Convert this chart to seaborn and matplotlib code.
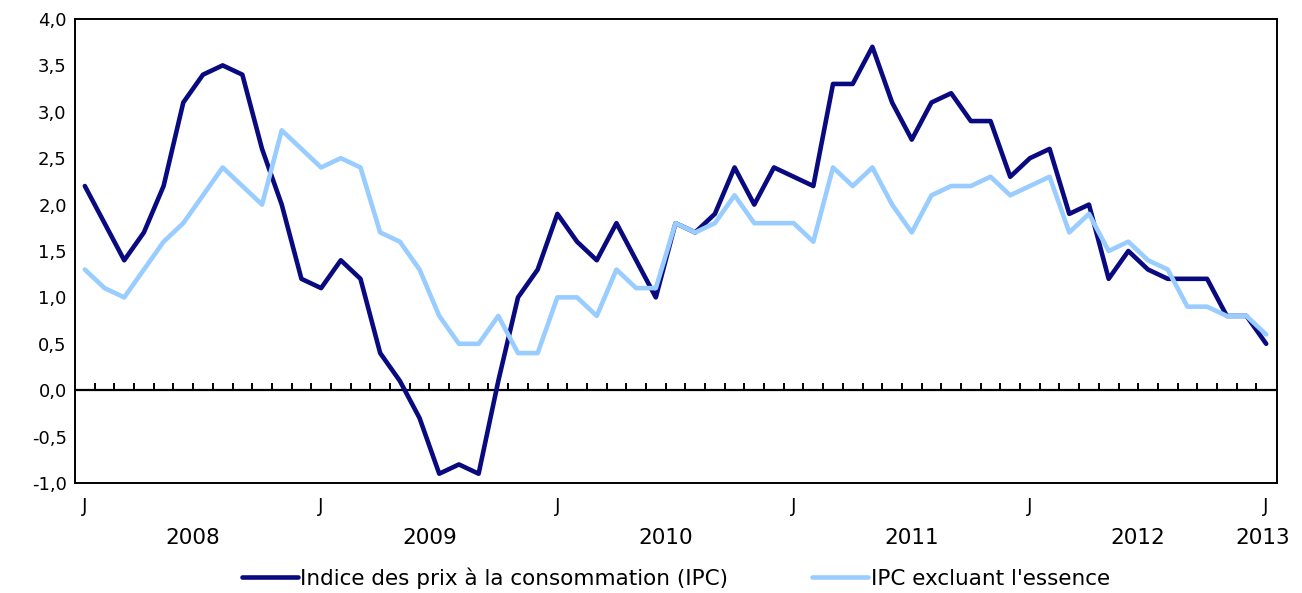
import numpy as np
import pandas as pd
import matplotlib
matplotlib.use('Agg')
import matplotlib.pyplot as plt
import matplotlib.ticker as mticker
import matplotlib.transforms as mtransforms
import seaborn as sns

# Variation annuelle en %, janvier 2008 a janvier 2013
ipc = [2.2, 1.8, 1.4, 1.7, 2.2, 3.1, 3.4, 3.5, 3.4, 2.6, 2.0, 1.2,
       1.1, 1.4, 1.2, 0.4, 0.1, -0.3, -0.9, -0.8, -0.9, 0.1, 1.0, 1.3,
       1.9, 1.6, 1.4, 1.8, 1.4, 1.0, 1.8, 1.7, 1.9, 2.4, 2.0, 2.4,
       2.3, 2.2, 3.3, 3.3, 3.7, 3.1, 2.7, 3.1, 3.2, 2.9, 2.9, 2.3,
       2.5, 2.6, 1.9, 2.0, 1.2, 1.5, 1.3, 1.2, 1.2, 1.2, 0.8, 0.8,
       0.5]
ipc_sans_essence = [1.3, 1.1, 1.0, 1.3, 1.6, 1.8, 2.1, 2.4, 2.2, 2.0, 2.8, 2.6,
                    2.4, 2.5, 2.4, 1.7, 1.6, 1.3, 0.8, 0.5, 0.5, 0.8, 0.4, 0.4,
                    1.0, 1.0, 0.8, 1.3, 1.1, 1.1, 1.8, 1.7, 1.8, 2.1, 1.8, 1.8,
                    1.8, 1.6, 2.4, 2.2, 2.4, 2.0, 1.7, 2.1, 2.2, 2.2, 2.3, 2.1,
                    2.2, 2.3, 1.7, 1.9, 1.5, 1.6, 1.4, 1.3, 0.9, 0.9, 0.8, 0.8,
                    0.6]
years = ['2008', '2009', '2010', '2011', '2012', '2013']
series_names = ['Indice des prix à la consommation (IPC)', "IPC excluant l'essence"]

mois = np.arange(len(ipc))
df = pd.DataFrame({'mois': np.concatenate([mois, mois]),
                   'valeur': ipc + ipc_sans_essence,
                   'serie': [series_names[0]] * len(ipc) + [series_names[1]] * len(ipc_sans_essence)})

sns.set_style('white')
plt.rcParams['font.family'] = ['DejaVu Sans']
plt.rcParams['text.color'] = 'black'
plt.rcParams['xtick.color'] = 'black'
plt.rcParams['ytick.color'] = 'black'

fig = plt.figure(figsize=(13.02, 5.93), dpi=100)
ax = fig.add_axes([0.0576, 0.1855, 0.9232, 0.7825])

sns.lineplot(data=df, x='mois', y='valeur', hue='serie', ax=ax,
             palette=['#0a0a80', '#99ccff'], linewidth=3.3, legend=False)

ax.axhline(0, color='black', lw=1.6, zorder=1)
# petits traits entre les mois sur la ligne zero
ax.plot(mois[:-1] + 0.5, np.zeros(len(mois) - 1), linestyle='none',
        marker=2, markersize=5, markeredgewidth=1.4, color='black')

ax.set_xlim(-0.5, 60.55)
ax.set_ylim(-1.0, 4.0)
ax.yaxis.set_major_locator(mticker.MultipleLocator(0.5))
ax.yaxis.set_major_formatter(mticker.FuncFormatter(lambda v, p: f'{v:.1f}'.replace('.', ',')))
ax.tick_params(axis='y', direction='in', length=6, width=1.4, pad=6, labelsize=13, colors='black')

ax.set_xticks(mois[::12])
ax.set_xticklabels(['J'] * len(mois[::12]))
ax.tick_params(axis='x', length=0, pad=10, labelsize=13.5, colors='black')
ax.set_xlabel('')
ax.set_ylabel('')

for s in ax.spines.values():
    s.set_color('black')
    s.set_linewidth(1.4)

trans = mtransforms.blended_transform_factory(ax.transData, ax.transAxes)
year_pos = [5.5, 17.5, 29.5, 42, 53.5, 59.8]
for xp, yr in zip(year_pos, years):
    ax.text(xp, -0.118, yr, transform=trans, ha='center', va='center',
            fontsize=15.5, color='black')

handles = [plt.Line2D([], [], color='#0a0a80', lw=3.3),
           plt.Line2D([], [], color='#99ccff', lw=3.3)]
leg = ax.legend(handles, series_names, loc='center', bbox_to_anchor=(0.5, -0.205),
                ncol=2, frameon=False, fontsize=15.5, handlelength=2.6,
                handletextpad=0.1, columnspacing=3.9)
for t in leg.get_texts():
    t.set_color('black')

fig.savefig('out.png', dpi=100)
